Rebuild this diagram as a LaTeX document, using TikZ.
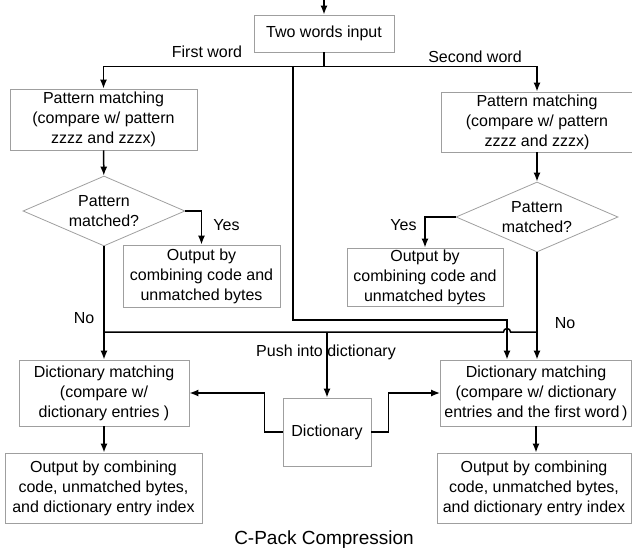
\documentclass[tikz,border=0pt]{standalone}
\usepackage{fontspec}
\setmainfont{Liberation Sans}
\usetikzlibrary{arrows.meta,shapes.geometric}
\tikzset{every picture/.style={>={Latex[length=9pt,width=7pt]},line width=1.5pt},
  box/.style={draw=gray!75,line width=0.8pt,align=center,inner sep=0pt},
  decide/.style={draw=gray!75,line width=0.8pt,diamond,aspect=2.3,inner sep=0pt,align=center,minimum width=162pt,minimum height=70pt}}

\begin{document}
\begin{tikzpicture}[x=1pt,y=-1pt,font=\fontsize{16}{20}\selectfont]
      \useasboundingbox (0,0) rectangle (632,551);
      \coordinate (T0) at (324,0);
      \node[box,minimum width=140pt,minimum height=37pt] (I0) at (324,33.5) {Two words input};
      \node (F1) at (207,52) {First word};
      \node (F2) at (475,57) {Second word};
      \node[box,minimum width=187pt,minimum height=61pt] (P1) at (103.5,119.5) {Pattern matching\\(compare w/ pattern\\zzzz and zzzx)};
      \node[box,minimum width=192pt,minimum height=60pt] (P2) at (537,122) {Pattern matching\\(compare w/ pattern\\zzzz and zzzx)};
      \node[decide] (Q1) at (104,211) {Pattern\\matched?};
      \node[decide] (Q2) at (537,217) {Pattern\\matched?};
      \node (YL1) at (226.5,225) {Yes};
      \node (YL2) at (403.5,225) {Yes};
      \node[box,minimum width=157pt,minimum height=62pt] (Y1) at (201.5,276) {Output by\\combining code and\\unmatched bytes};
      \node[box,minimum width=156pt,minimum height=58pt] (Y2) at (425,277) {Output by\\combining code and\\unmatched bytes};
      \node (NL1) at (84,318) {No};
      \node (NL2) at (565,323) {No};
      \node (L0) at (326,352) {Push into dictionary};
      \node[box,minimum width=170pt,minimum height=66pt] (M1) at (104,393) {Dictionary matching\\(compare w/\\dictionary entries )};
      \node[box,minimum width=191pt,minimum height=66pt] (M2) at (536,393) {Dictionary matching\\(compare w/ dictionary\\entries and the first word\,)};
      \node[box,minimum width=88pt,minimum height=68pt] (D0) at (327,432) {Dictionary};
      \node[box,minimum width=197pt,minimum height=70pt] (R1) at (103.5,488) {Output by combining\\code, unmatched bytes,\\and dictionary entry index};
      \node[box,minimum width=194pt,minimum height=70pt] (R2) at (534,488) {Output by combining\\code, unmatched bytes,\\and dictionary entry index};
      \node (C0) at (324,540) {\fontsize{19}{23}\selectfont C-Pack Compression};
      \coordinate (S0) at (293,66);
      \coordinate (S1) at (507,320);
      \coordinate (B1) at (104,332);
      \coordinate (B2) at (537,332);
      \coordinate (H0) at (507,332);
      \draw[->] (T0) -- (I0);
      \draw[->] (I0.south) -- ++(0,14) -| (P1.north);
      \draw[->] (I0.south) -- ++(0,14) -| (P2.north);
      \draw[->] (S0) |- (S1) -- (S1 |- M2.north);
      \draw[->] (P1) -- (Q1);
      \draw[->] (P2) -- (Q2);
      \draw[->] (Q1.east) -| (Y1.north);
      \draw[->] (Q2.west) -| (Y2.north);
      \draw[->] (Q1.south) -- (M1.north);
      \draw[->] (Q2.south) -- (Q2.south |- M2.north);
      \draw (B1) -- ([xshift=-3.5pt]H0) arc[start angle=180,end angle=0,radius=3.5pt] -- (B2);
      \draw[->] (B1 -| D0.north) -- (D0.north);
      \draw[->] (D0.west) -- ++(-18,0) |- (M1.east);
      \draw[->] (D0.east) -- ++(17,0) |- (M2.west);
      \draw[->] (M1.south) -- (M1.south |- R1.north);
      \draw[->] (M2.south) -- (M2.south |- R2.north);
    \end{tikzpicture}
\end{document}
